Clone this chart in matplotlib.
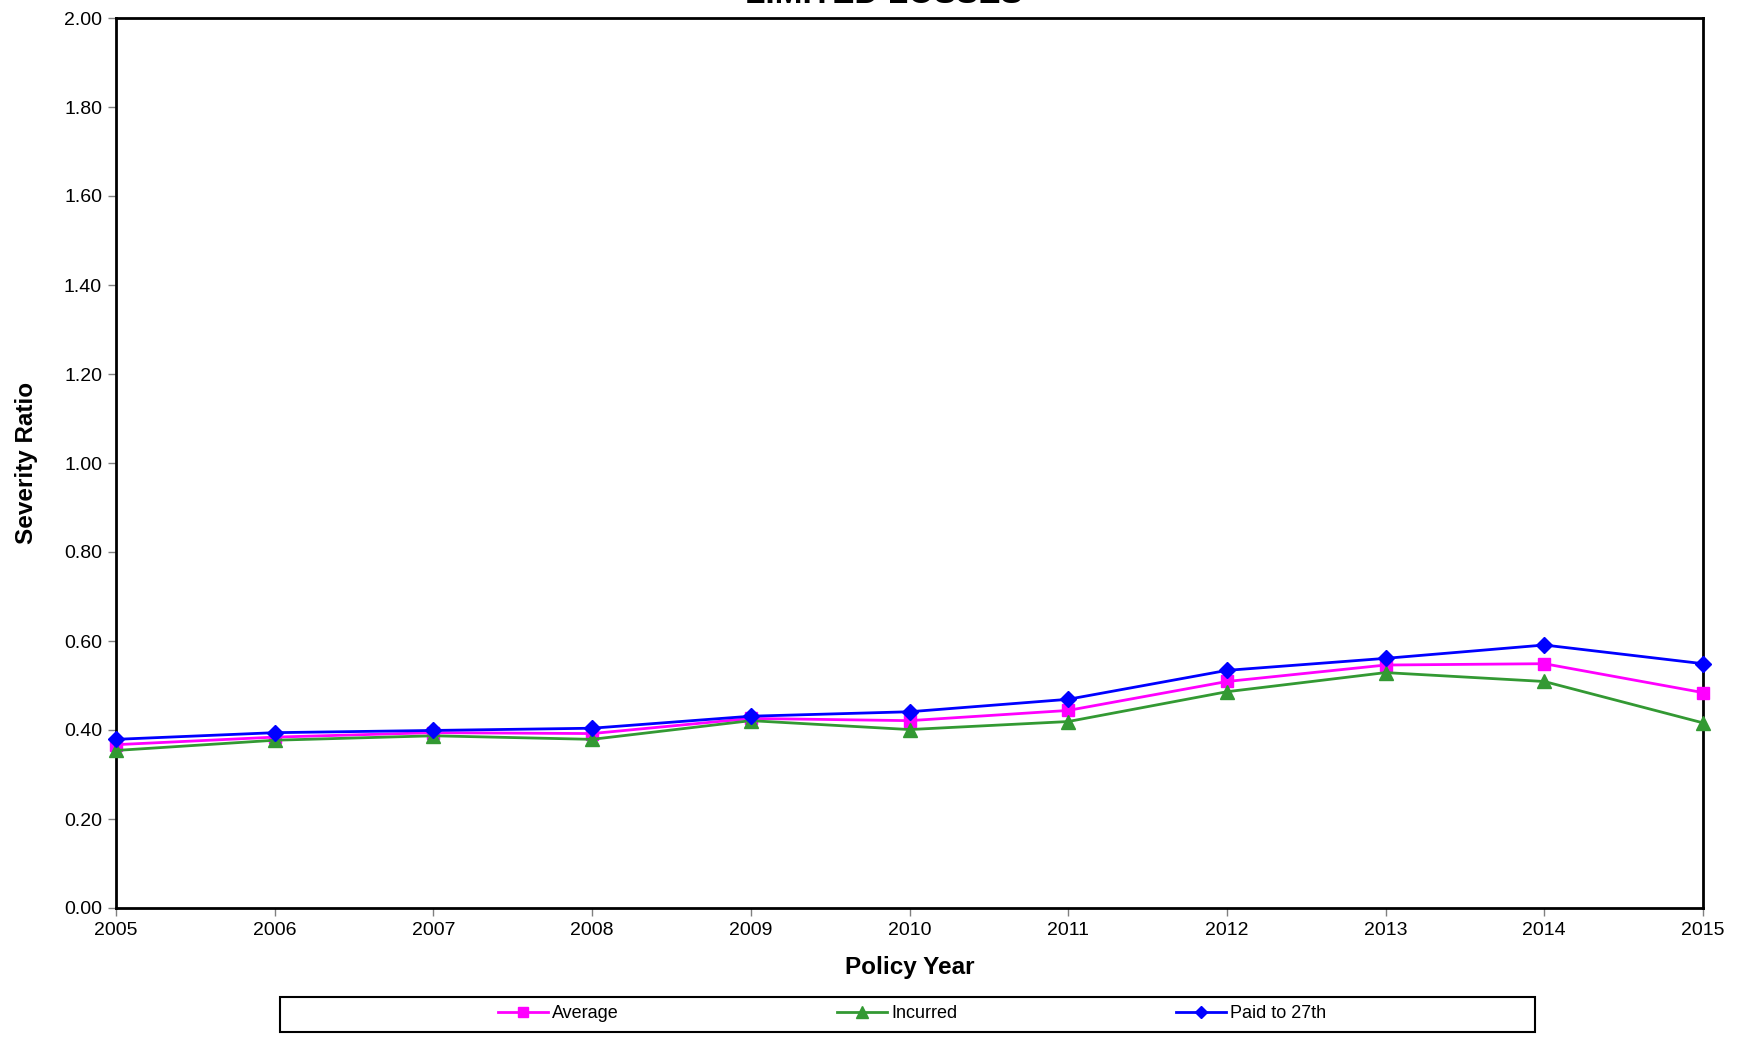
import matplotlib
matplotlib.use("Agg")
import matplotlib.pyplot as plt
from matplotlib.patches import Rectangle

plt.rcParams['font.family'] = ['Liberation Sans', 'DejaVu Sans']

years = [2005, 2006, 2007, 2008, 2009, 2010, 2011, 2012, 2013, 2014, 2015]
average = [0.367, 0.384, 0.394, 0.392, 0.426, 0.421, 0.444, 0.509, 0.546, 0.549, 0.484]
incurred = [0.354, 0.377, 0.387, 0.379, 0.421, 0.401, 0.419, 0.486, 0.529, 0.509, 0.416]
paid = [0.379, 0.394, 0.399, 0.404, 0.431, 0.441, 0.469, 0.534, 0.561, 0.591, 0.549]
y_ticks = [0.0, 0.2, 0.4, 0.6, 0.8, 1.0, 1.2, 1.4, 1.6, 1.8, 2.0]

fig = plt.figure(figsize=(17.4, 10.37), dpi=100)
ax = fig.add_axes([116/1740, 1 - 908/1037, (1703 - 116)/1740, (908 - 18)/1037])

lw = 2.0
ax.plot(years, average, color='#FF00FF', marker='s', markersize=9, lw=lw,
        label='Average', clip_on=False, zorder=3)
ax.plot(years, incurred, color='#339933', marker='^', markersize=10, lw=lw,
        label='Incurred', clip_on=False, zorder=3)
ax.plot(years, paid, color='#0000FF', marker='D', markersize=8, lw=lw,
        label='Paid to 27th', clip_on=False, zorder=4)

ax.set_xlim(2005, 2015)
ax.set_ylim(0, 2.0)
ax.set_xticks(years)
ax.set_xticklabels([str(y) for y in years])
ax.set_yticks(y_ticks)
ax.set_yticklabels([f"{v:.2f}" for v in y_ticks])
ax.tick_params(axis='both', direction='out', length=6, width=1, color='#808080',
               labelsize=14, pad=4)

for s in ax.spines.values():
    s.set_linewidth(2)
    s.set_color('black')

ax.set_xlabel('Policy Year', fontsize=17.5, fontweight='bold', labelpad=12)
ax.set_ylabel('Severity Ratio', fontsize=17.5, fontweight='bold', labelpad=19)

fig.text(0.508, 1 - 3/1037, 'LIMITED LOSSES', fontsize=24, fontweight='bold',
         ha='center', va='baseline')

handles, labels = ax.get_legend_handles_labels()
leg = fig.legend(handles, labels, loc='center', ncol=3,
                 bbox_to_anchor=(0.524, 1 - 1014/1037), frameon=False,
                 fontsize=13, handlelength=2.8, handletextpad=0.2,
                 columnspacing=12.1, markerscale=0.8)

fig.patches.append(Rectangle((280/1740, 1 - 1032/1037), 1255/1740, 35/1037,
                             transform=fig.transFigure, fill=False,
                             edgecolor='black', linewidth=1.5))

fig.savefig('out.png', dpi=100)
